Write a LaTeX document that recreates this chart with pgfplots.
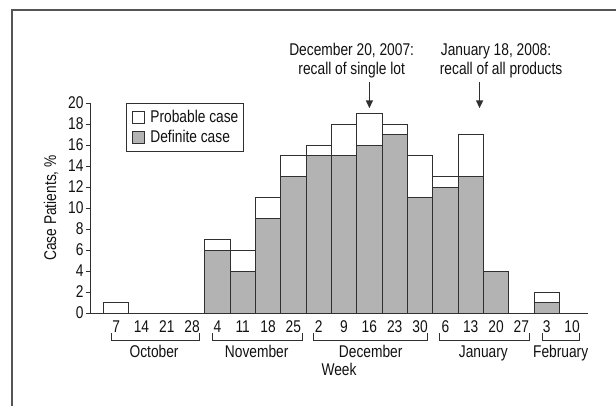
\documentclass[border=0pt]{standalone}
\usepackage{fontspec}
\setmainfont{Liberation Sans}[FakeStretch=0.81]
\usepackage{pgfplots}
\usepackage{pgfplotstable}
\pgfplotsset{compat=1.18}
\usetikzlibrary{arrows.meta}
\definecolor{barfill}{HTML}{B3B3B3}
\definecolor{edgec}{HTML}{303030}
\definecolor{framec}{HTML}{555555}
\definecolor{txt}{HTML}{111111}
\newcommand{\fs}{\fontsize{17}{20}\selectfont}

\pgfplotstableread{
idx def prob
0 0 1
1 0 0
2 0 0
3 0 0
4 6 1
5 4 2
6 9 2
7 13 2
8 15 1
9 15 3
10 16 3
11 17 1
12 11 4
13 12 1
14 13 4
15 4 0
16 0 0
17 1 1
18 0 0
}\casedata

\begin{document}
\begin{tikzpicture}[font=\fs, text=txt]
\useasboundingbox (0pt,0pt) rectangle (616pt,405pt);
\begin{axis}[
  at={(90pt,92pt)}, anchor=south west,
  scale only axis, width=498pt, height=210pt,
  xmin=-1.03, xmax=18.63, ymin=0, ymax=20,
  axis x line*=bottom, axis y line*=left,
  axis line style={edgec, line width=1pt, -},
  /pgf/number format/assume math mode=true,
  ytick={0,2,...,20},
  tick align=outside, major tick length=4pt,
  ytick style={edgec, line width=0.8pt},
  xtick={0,...,18},
  xticklabels={7,14,21,28,4,11,18,25,2,9,16,23,30,6,13,20,27,3,10},
  xtick style={draw=none},
  tick label style={font=\fs, text=txt},
  yticklabel style={xshift=1pt},
  ybar stacked, bar width=1,
  clip=false,
  ylabel={Case Patients, \%},
  ylabel style={at={(axis description cs:-0.0783,0.5)}, anchor=center, font=\fs},
  xlabel={Week},
  xlabel style={at={(axis description cs:0.5,-0.271)}, anchor=center, font=\fs},
  reverse legend,
  legend cell align=left,
  legend style={at={(axis cs:0.39,20)}, anchor=north west, draw=edgec, line width=0.8pt,
    font=\fs, inner xsep=3pt, inner ysep=5pt, row sep=2pt},
]
\addplot[fill=barfill, draw=edgec, line width=1pt,
  legend image code/.code={\draw[fill=barfill, draw=edgec, line width=0.8pt] (0pt,-6pt) rectangle (12pt,6pt); \path[draw=none, fill=none] (-3pt,0pt) -- (16pt,0pt);}]
  table[x=idx, y=def] {\casedata};
\addlegendentry{Definite case}
\addplot[fill=white, draw=edgec, line width=1pt,
  legend image code/.code={\draw[fill=white, draw=edgec, line width=0.8pt] (0pt,-6pt) rectangle (12pt,6pt); \path[draw=none, fill=none] (-3pt,0pt) -- (16pt,0pt);}]
  table[x=idx, y=prob] {\casedata};
\addlegendentry{Probable case}

% month brackets
\draw[edgec, line width=0.8pt] (axis cs:-0.2,-1.9) |- (axis cs:3.3,-2.57) -- (axis cs:3.3,-1.9);
\draw[edgec, line width=0.8pt] (axis cs:3.8,-1.9) |- (axis cs:7.34,-2.57) -- (axis cs:7.34,-1.9);
\draw[edgec, line width=0.8pt] (axis cs:7.8,-1.9) |- (axis cs:12.3,-2.57) -- (axis cs:12.3,-1.9);
\draw[edgec, line width=0.8pt] (axis cs:12.76,-1.9) |- (axis cs:16.3,-2.57) -- (axis cs:16.3,-1.9);
\draw[edgec, line width=0.8pt] (axis cs:16.84,-1.9) |- (axis cs:18.28,-2.57) -- (axis cs:18.28,-1.9);
\node[anchor=base] at (axis cs:1.5,-4.25) {October};
\node[anchor=base] at (axis cs:5.55,-4.25) {November};
\node[anchor=base] at (axis cs:10.05,-4.25) {December};
\node[anchor=base] at (axis cs:14.5,-4.25) {January};
\node[anchor=base] at (axis cs:17.55,-4.25) {February};

% annotations
\node[anchor=base] at (axis cs:9.3,24.5) {December 20, 2007:};
\node[anchor=base] at (axis cs:9.3,22.75) {recall of single lot};
\node[anchor=base] at (axis cs:15.0,24.5) {January 18, 2008:};
\node[anchor=base] at (axis cs:15.2,22.75) {recall of all products};
\draw[edgec, line width=1.6pt, -{Triangle[length=8pt,width=7pt]}] (axis cs:10,22.0) -- (axis cs:10,19.5);
\draw[edgec, line width=1.6pt, -{Triangle[length=8pt,width=7pt]}] (axis cs:14.35,22.0) -- (axis cs:14.35,19.5);
\end{axis}
\draw[framec, line width=1.8pt] (12pt,-5pt) -- (12pt,395pt) -- (625pt,395pt);
\end{tikzpicture}
\end{document}
